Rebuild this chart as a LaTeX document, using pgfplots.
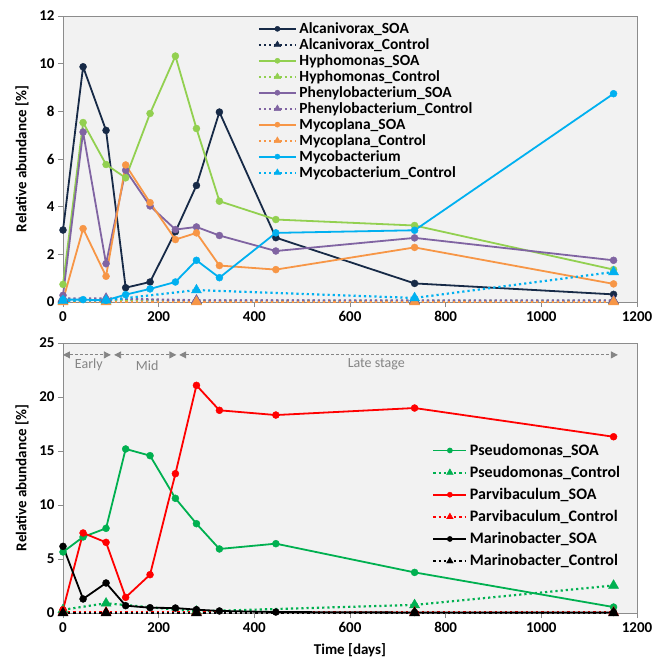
\documentclass[border=0pt]{standalone}
\usepackage{fontspec}
\setmainfont{Carlito}[BoldFont={Carlito Bold}]
\usepackage{pgfplots}
\pgfplotsset{compat=1.18}
\usetikzlibrary{arrows.meta}
\definecolor{alc}{HTML}{172A47}
\definecolor{hyp}{HTML}{92D050}
\definecolor{phe}{HTML}{8064A2}
\definecolor{myp}{HTML}{F79646}
\definecolor{myb}{HTML}{00B0F0}
\definecolor{pse}{HTML}{00B050}
\definecolor{par}{HTML}{FF0000}
\definecolor{mar}{HTML}{000000}
\definecolor{bg}{HTML}{F2F2F2}
\definecolor{axgray}{HTML}{8C8C8C}
\definecolor{stagegray}{HTML}{858585}
\newcommand\lgA[1]{\fontsize{15.5}{17}\selectfont\bfseries #1}
\newcommand\lgB[1]{\fontsize{16}{18}\selectfont\bfseries #1}
\pgfplotsset{
  soa/.style={line width=1.8pt, mark=*, mark size=3.5pt, mark options={solid, line width=0.4pt},
     legend image post style={mark size=2.6pt}},
  ctl/.style={line width=2.2pt, dash pattern=on 2.2pt off 3pt, mark=triangle*, mark size=5.8pt,
     mark options={solid, line width=0.4pt}, legend image post style={mark size=3.8pt}},
  base/.style={
    scale only axis, width=574pt,
    xmin=0, xmax=1200, ymin=0,
    xtick={0,200,...,1200},
    clip=false,
    axis background/.style={fill=bg},
    axis line style={draw=axgray, line width=0.8pt},
    every tick/.style={draw=axgray, line width=0.8pt},
    tick align=outside, major tick length=5pt,
    xtick pos=bottom, ytick pos=left,
    tick label style={font=\fontsize{15}{18}\selectfont\bfseries},
    /pgf/number format/assume math mode=true,
    /pgf/number format/1000 sep={},
    xticklabel style={yshift=-1pt},
    every axis y label/.style={at={(axis description cs:-0.0714,0.5)}, rotate=90, anchor=center,
       font=\fontsize{15}{18}\selectfont\bfseries},
    legend cell align=left,
  }
}
\begin{document}
\begin{tikzpicture}
\useasboundingbox (0pt,0pt) rectangle (654pt,-657pt);
% ---------------- top axis ----------------
\begin{axis}[base,
  at={(63pt,-302pt)}, anchor=south west, height=286pt,
  ymax=12, ytick={0,2,...,12},
  ylabel={Relative abundance [\%]},
  legend image code/.code={\draw[mark repeat=2,mark phase=2,#1] plot coordinates {(0pt,0pt) (18.5pt,0pt) (37pt,0pt)};},
  legend style={at={(0.339,0.981)}, anchor=north west, draw=none, fill=none,
    row sep=1.6pt, inner sep=0pt, /tikz/column 2/.style={column sep=4.5pt},
    nodes={inner xsep=2.5pt, inner ysep=1pt}},
]
\addplot[soa, color=alc] coordinates {(0,3.02) (42,9.87) (90,7.2) (131,0.6) (182,0.84) (235,2.95) (279,4.89) (327,7.97) (445,2.70) (735,0.78) (1151,0.32)};
\addlegendentry{\lgA{Alcanivorax\_SOA}}
\addplot[ctl, color=alc] coordinates {(0,0.1) (90,0.1) (279,0.05) (735,0.05) (1151,0.05)};
\addlegendentry{\lgA{Alcanivorax\_Control}}
\addplot[soa, color=hyp] coordinates {(0,0.74) (42,7.53) (90,5.77) (131,5.21) (182,7.91) (235,10.32) (279,7.28) (327,4.23) (445,3.46) (735,3.21) (1151,1.36)};
\addlegendentry{\lgA{Hyphomonas\_SOA}}
\addplot[ctl, color=hyp] coordinates {(0,0.02) (90,0.02) (279,0.02) (735,0.02) (1151,0.02)};
\addlegendentry{\lgA{Hyphomonas\_Control}}
\addplot[soa, color=phe] coordinates {(0,0.28) (42,7.13) (90,1.61) (131,5.53) (182,4.03) (235,3.04) (279,3.15) (327,2.79) (445,2.14) (735,2.69) (1151,1.75)};
\addlegendentry{\lgA{Phenylobacterium\_SOA}}
\addplot[ctl, color=phe] coordinates {(0,0.15) (90,0.15) (279,0.07) (735,0.05) (1151,0.05)};
\addlegendentry{\lgA{Phenylobacterium\_Control}}
\addplot[soa, color=myp] coordinates {(0,0.07) (42,3.08) (90,1.08) (131,5.75) (182,4.17) (235,2.62) (279,2.90) (327,1.53) (445,1.36) (735,2.29) (1151,0.76)};
\addlegendentry{\lgA{Mycoplana\_SOA}}
\addplot[ctl, color=myp] coordinates {(0,0) (90,0) (279,0) (735,0) (1151,0)};
\addlegendentry{\lgA{Mycoplana\_Control}}
\addplot[soa, color=myb] coordinates {(0,0.1) (42,0.1) (90,0.07) (131,0.31) (182,0.55) (235,0.84) (279,1.75) (327,1.02) (445,2.9) (735,3.01) (1151,8.74)};
\addlegendentry{\lgA{Mycobacterium}}
\addplot[ctl, color=myb] coordinates {(0,0.05) (90,0.07) (279,0.5) (735,0.17) (1151,1.26)};
\addlegendentry{\lgA{Mycobacterium\_Control}}
\end{axis}
% ---------------- bottom axis ----------------
\begin{axis}[base,
  at={(63pt,-613pt)}, anchor=south west, height=270pt,
  ymax=25, ytick={0,5,...,25},
  ylabel={Relative abundance [\%]},
  xlabel={Time [days]},
  every axis x label/.style={at={(axis description cs:0.5,-0.137)}, anchor=center,
     font=\fontsize{15}{18}\selectfont\bfseries},
  legend image code/.code={\draw[mark repeat=2,mark phase=2,#1] plot coordinates {(0pt,0pt) (16.5pt,0pt) (33pt,0pt)};},
  legend style={at={(0.643,0.63)}, anchor=north west, draw=none, fill=none,
    row sep=7.4pt, inner sep=0pt, /tikz/column 2/.style={column sep=7pt},
    nodes={inner xsep=2.5pt, inner ysep=1pt}},
]
\addplot[soa, color=pse] coordinates {(0,5.65) (42,7.04) (90,7.84) (131,15.19) (182,14.57) (235,10.62) (279,8.27) (327,5.93) (445,6.42) (735,3.76) (1151,0.55)};
\addlegendentry{\lgB{Pseudomonas\_SOA}}
\addplot[ctl, color=pse] coordinates {(0,0.3) (90,0.9) (279,0.15) (735,0.75) (1151,2.55)};
\addlegendentry{\lgB{Pseudomonas\_Control}}
\addplot[soa, color=par] coordinates {(0,0.3) (42,7.41) (90,6.54) (131,1.45) (182,3.55) (235,12.9) (279,21.08) (327,18.77) (445,18.33) (735,18.98) (1151,16.32)};
\addlegendentry{\lgB{Parvibaculum\_SOA}}
\addplot[ctl, color=par] coordinates {(0,0.06) (90,0.06) (279,0.06) (735,0.06) (1151,0.06)};
\addlegendentry{\lgB{Parvibaculum\_Control}}
\addplot[soa, color=mar] coordinates {(0,6.17) (42,1.30) (90,2.78) (131,0.68) (182,0.49) (235,0.46) (279,0.31) (327,0.19) (445,0.09) (735,0.05) (1151,0.05)};
\addlegendentry{\lgB{Marinobacter\_SOA}}
\addplot[ctl, color=mar] coordinates {(0,0) (90,0) (279,0) (735,0) (1151,0)};
\addlegendentry{\lgB{Marinobacter\_Control}}
% stage annotations
\draw[stagegray, line width=0.9pt, dash pattern=on 3pt off 2pt, {Triangle[length=7pt,width=7pt]}-{Triangle[length=7pt,width=7pt]}] (axis cs:0,23.9) -- (axis cs:100,23.9);
\draw[stagegray, line width=0.9pt, dash pattern=on 3pt off 2pt, {Triangle[length=7pt,width=7pt]}-{Triangle[length=7pt,width=7pt]}] (axis cs:107,23.9) -- (axis cs:237,23.9);
\draw[stagegray, line width=0.9pt, dash pattern=on 3pt off 2pt, {Triangle[length=7pt,width=7pt]}-{Triangle[length=7pt,width=7pt]}] (axis cs:243,23.9) -- (axis cs:1160,23.9);
\node[text=stagegray, font=\fontsize{14}{16}\selectfont] at (axis cs:54,23.0) {Early};
\node[text=stagegray, font=\fontsize{14}{16}\selectfont] at (axis cs:176,22.9) {Mid};
\node[text=stagegray, font=\fontsize{14}{16}\selectfont] at (axis cs:655,23.0) {Late stage};
\end{axis}
\end{tikzpicture}
\end{document}
